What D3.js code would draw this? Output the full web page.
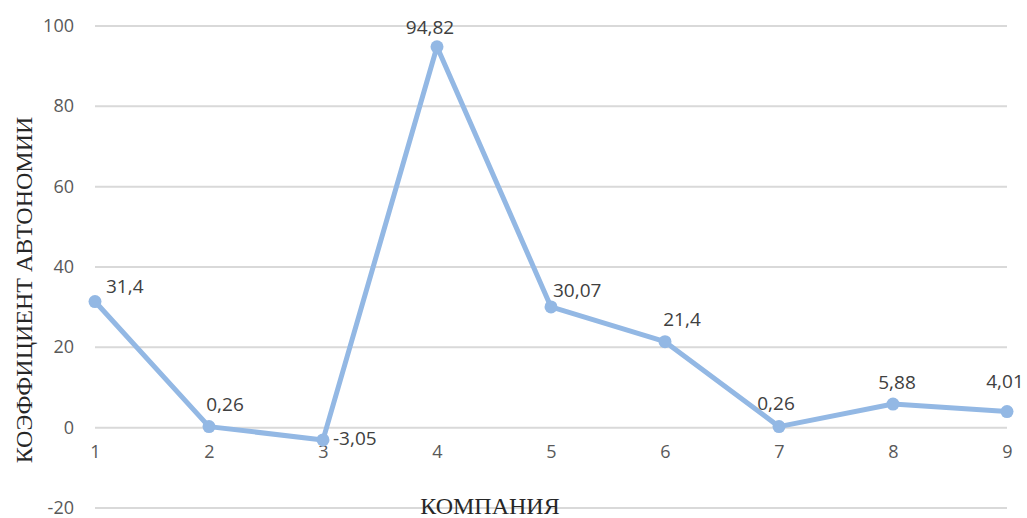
<!DOCTYPE html>
<html>
<head>
<meta charset="utf-8">
<script src="https://cdn.jsdelivr.net/npm/d3@7"></script>
<style>
  html, body { margin: 0; padding: 0; background: #fff; }
  svg { display: block; }
</style>
</head>
<body>
<svg id="chart" width="1027" height="518"></svg>
<script>
// Companies and their autonomy ratios
const companies = [1, 2, 3, 4, 5, 6, 7, 8, 9];
const autonomy = [31.4, 0.26, -3.05, 94.82, 30.07, 21.4, 0.26, 5.88, 4.01];
const valueLabels = ["31,4", "0,26", "-3,05", "94,82", "30,07", "21,4", "0,26", "5,88", "4,01"];
const yTicks = [-20, 0, 20, 40, 60, 80, 100];

// Label placement relative to each point (dx, dy, anchor)
const labelPlacement = [
  { dx: 11, dy: -15, anchor: "start" },
  { dx: 16, dy: -22, anchor: "middle" },
  { dx: 10, dy: -2, anchor: "start" },
  { dx: -7, dy: -19, anchor: "middle" },
  { dx: 2, dy: -17, anchor: "start" },
  { dx: 17, dy: -22, anchor: "middle" },
  { dx: -3, dy: -23, anchor: "middle" },
  { dx: 4, dy: -22, anchor: "middle" },
  { dx: -2, dy: -30, anchor: "middle" }
];

const svg = d3.select("#chart");

const x = d3.scalePoint().domain(companies).range([95, 1007]).padding(0);
const y = d3.scaleLinear().domain([-20, 100]).range([508, 26]);

// Horizontal gridlines
svg.append("g")
  .selectAll("line")
  .data(yTicks)
  .join("line")
  .attr("x1", 95)
  .attr("x2", 1007)
  .attr("y1", d => y(d))
  .attr("y2", d => y(d))
  .attr("stroke", "#d9d9d9")
  .attr("stroke-width", 2);

// Y axis tick labels
const yAxis = svg.append("g")
  .attr("transform", "translate(74,0)")
  .call(d3.axisLeft(y).tickValues(yTicks).tickSize(0).tickPadding(0).tickFormat(d => String(d)));
yAxis.select(".domain").remove();
yAxis.selectAll("text")
  .attr("font-family", "'Open Sans', sans-serif")
  .attr("font-size", 18)
  .attr("fill", "#595959")
  .attr("dy", "0.3em");

// X axis tick labels
const xAxis = svg.append("g")
  .attr("transform", "translate(0,445)")
  .call(d3.axisBottom(x).tickSize(0).tickPadding(0));
xAxis.select(".domain").remove();
xAxis.selectAll("text")
  .attr("font-family", "'Open Sans', sans-serif")
  .attr("font-size", 18)
  .attr("fill", "#595959")
  .attr("dy", "0.71em");

// Series line
const line = d3.line()
  .x((d, i) => x(companies[i]))
  .y(d => y(d));

svg.append("path")
  .datum(autonomy)
  .attr("d", line)
  .attr("fill", "none")
  .attr("stroke", "#93b8e4")
  .attr("stroke-width", 5)
  .attr("stroke-linejoin", "round");

// Markers
svg.append("g")
  .selectAll("circle")
  .data(autonomy)
  .join("circle")
  .attr("cx", (d, i) => x(companies[i]))
  .attr("cy", d => y(d))
  .attr("r", 6.5)
  .attr("fill", "#93b8e4");

// Value labels
svg.append("g")
  .selectAll("text")
  .data(autonomy)
  .join("text")
  .attr("x", (d, i) => x(companies[i]) + labelPlacement[i].dx)
  .attr("y", (d, i) => y(d) + labelPlacement[i].dy)
  .attr("text-anchor", (d, i) => labelPlacement[i].anchor)
  .attr("dy", "0.35em")
  .attr("font-family", "'Open Sans', sans-serif")
  .attr("font-size", 19)
  .attr("fill", "#404040")
  .text((d, i) => valueLabels[i]);

// Axis titles
svg.append("text")
  .attr("transform", "translate(32,290) rotate(-90)")
  .attr("text-anchor", "middle")
  .attr("font-family", "'Liberation Serif', 'Times New Roman', serif")
  .attr("font-size", 24)
  .attr("fill", "#262626")
  .text("КОЭФФИЦИЕНТ АВТОНОМИИ");

svg.append("text")
  .attr("x", 490)
  .attr("y", 514)
  .attr("text-anchor", "middle")
  .attr("font-family", "'Liberation Serif', 'Times New Roman', serif")
  .attr("font-size", 24)
  .attr("fill", "#262626")
  .text("КОМПАНИЯ");
</script>
</body>
</html>
